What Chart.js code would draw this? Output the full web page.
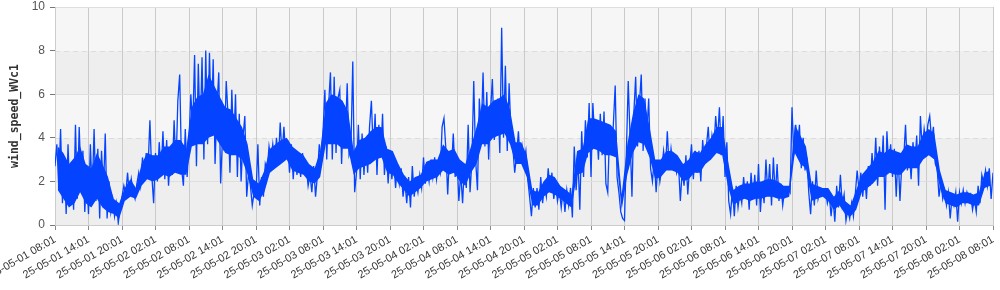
<!DOCTYPE html>
<html>
<head>
<meta charset="utf-8">
<script src="https://cdn.jsdelivr.net/npm/chart.js@4.4.1/dist/chart.umd.min.js"></script>
<style>
  html, body { margin: 0; padding: 0; background: #fff; }
  #wrap { width: 1000px; height: 290px; position: relative; }
</style>
</head>
<body>
<div id="wrap"><canvas id="windChart"></canvas></div>
<script>
// Tick labels, one every 6 hours from the first sample
const xLabels = [
    '25-05-01 08:01', '25-05-01 14:01', '25-05-01 20:01', '25-05-02 02:01',
    '25-05-02 08:01', '25-05-02 14:01', '25-05-02 20:01', '25-05-03 02:01',
    '25-05-03 08:01', '25-05-03 14:01', '25-05-03 20:01', '25-05-04 02:01',
    '25-05-04 08:01', '25-05-04 14:01', '25-05-04 20:01', '25-05-05 02:01',
    '25-05-05 08:01', '25-05-05 14:01', '25-05-05 20:01', '25-05-06 02:01',
    '25-05-06 08:01', '25-05-06 14:01', '25-05-06 20:01', '25-05-07 02:01',
    '25-05-07 08:01', '25-05-07 14:01', '25-05-07 20:01', '25-05-08 02:01',
    '25-05-08 08:01'
];
const yTicks = [0, 2, 4, 6, 8, 10];

// wind speed samples, every 20 minutes, one array per day (starting 08:01)
const day1 = [
    2.7, 3.7, 1.8, 4.4, 1.0, 3.0, 0.5, 3.7, 1.2, 2.8, 0.7, 4.6,
    1.2, 4.5, 2.0, 3.4, 0.6, 2.4, 0.5, 3.7, 1.4, 4.4, 1.1, 3.5,
    0.3, 3.4, 1.5, 4.2, 0.3, 2.0, 0.6, 1.2, 0.4, 1.0, 0.1, 0.8,
    1.3, 1.8, 1.4, 2.4, 1.3, 2.1, 1.5, 1.2, 1.9, 2.4, 1.8, 3.1,
    2.2, 3.3, 2.6, 4.8, 2.3, 1.0, 3.3, 2.0, 3.8, 2.4, 4.3, 2.1,
    3.9, 1.8, 3.2, 2.3, 4.8, 2.6, 5.7, 6.9, 2.6, 1.8, 4.4, 2.2
];
const day2 = [
    3.9, 6.0, 4.4, 7.8, 2.7, 7.4, 4.0, 7.7, 3.0, 8.0, 3.7, 7.9,
    4.4, 7.6, 2.8, 5.4, 7.0, 1.9, 4.0, 3.4, 6.6, 5.0, 2.4, 6.2,
    3.6, 6.0, 2.2, 5.1, 2.0, 4.0, 5.0, 1.3, 2.4, 1.8, 0.9, 1.5,
    1.4, 3.7, 0.9, 2.2, 1.3, 2.8, 2.5, 3.6, 3.0, 3.7, 2.7, 4.0,
    2.9, 4.7, 3.2, 4.5, 3.1, 3.9, 2.4, 3.7, 2.1, 3.4, 2.3, 3.0,
    2.2, 3.3, 2.5, 2.7, 1.8, 2.3, 1.5, 2.7, 1.3, 2.3, 3.7, 3.0
];
const day3 = [
    4.2, 6.2, 3.0, 5.5, 7.0, 3.0, 6.8, 3.3, 5.8, 6.2, 2.8, 5.5,
    4.0, 6.5, 3.2, 3.5, 7.5, 1.5, 2.4, 4.6, 2.1, 4.2, 2.3, 3.9,
    2.4, 4.5, 5.7, 3.3, 5.1, 2.3, 4.6, 3.1, 5.1, 2.3, 3.6, 1.9,
    3.4, 2.1, 3.0, 1.7, 2.8, 1.9, 2.6, 1.3, 2.0, 1.0, 2.2, 0.8,
    2.7, 1.3, 2.0, 1.5, 2.3, 1.7, 3.1, 1.9, 2.6, 2.0, 3.0, 2.2,
    3.1, 2.1, 2.8, 2.4, 4.5, 4.9, 3.5, 1.4, 3.3, 2.5, 4.2, 2.2
];
const day4 = [
    3.1, 1.1, 2.4, 1.0, 2.8, 1.7, 4.6, 1.5, 2.9, 6.6, 3.0, 1.6,
    5.8, 4.2, 7.0, 3.6, 6.1, 3.0, 5.2, 6.7, 3.9, 4.5, 5.8, 3.3,
    9.05, 4.0, 7.3, 3.4, 6.5, 4.2, 3.6, 2.4, 3.2, 4.3, 2.8, 3.6,
    2.9, 3.4, 2.1, 1.3, 0.4, 1.7, 0.8, 1.7, 0.7, 2.2, 1.0, 1.8,
    1.3, 2.6, 1.5, 2.4, 1.2, 1.9, 1.1, 1.6, 0.8, 1.6, 0.6, 1.6,
    0.9, 1.7, 0.35, 3.6, 1.6, 3.0, 0.7, 4.3, 2.2, 4.8, 3.1, 5.6
];
const day5 = [
    2.2, 5.6, 3.9, 4.5, 3.0, 5.1, 3.2, 5.2, 1.9, 1.5, 4.4, 3.2,
    4.6, 6.4, 2.2, 1.5, 0.6, 0.3, 0.2, 3.3, 6.6, 4.0, 1.3, 5.1,
    6.8, 3.6, 5.5, 6.9, 3.4, 5.8, 4.2, 5.8, 2.6, 2.0, 3.0, 1.5,
    2.9, 2.0, 2.6, 3.4, 2.5, 4.3, 2.6, 3.5, 2.7, 3.0, 2.4, 2.8,
    1.1, 2.5, 1.8, 3.2, 1.4, 2.7, 3.7, 2.1, 3.4, 2.4, 3.4, 2.0,
    3.9, 2.8, 3.6, 4.5, 3.0, 4.1, 3.5, 5.0, 3.9, 5.4, 3.2, 5.0
];
const day6 = [
    2.2, 3.8, 1.1, 0.5, 1.7, 0.4, 1.8, 0.8, 1.5, 1.0, 2.2, 1.2,
    2.0, 0.7, 2.4, 1.2, 2.3, 0.9, 2.8, 0.6, 1.9, 1.0, 3.0, 1.4,
    2.8, 0.9, 3.1, 1.3, 2.8, 1.1, 1.9, 0.9, 1.6, 1.4, 1.7, 1.5,
    5.4, 3.2, 4.6, 3.6, 4.6, 2.6, 4.0, 2.5, 3.1, 1.5, 0.5, 2.0,
    0.9, 2.5, 1.2, 1.6, 1.4, 1.5, 1.6, 1.0, 1.4, 0.4, 1.3, 0.15,
    1.8, 0.8, 2.3, 0.9, 1.4, 0.2, 0.7, 0.3, 1.0, 0.4, 1.4, 2.5
];
const day7 = [
    1.6, 2.4, 1.3, 2.3, 1.2, 2.7, 1.8, 3.3, 2.2, 4.0, 1.8, 3.6,
    2.3, 4.1, 0.7, 4.3, 2.6, 3.7, 2.2, 3.5, 1.3, 3.3, 1.1, 2.8,
    3.0, 4.6, 2.5, 3.5, 2.1, 3.8, 2.7, 4.1, 1.8, 5.0, 3.4, 4.4,
    3.7, 4.6, 5.0, 3.9, 4.5, 2.8, 2.6, 1.3, 2.0, 1.2, 1.6, 0.9,
    1.5, 0.3, 1.3, 0.9, 1.5, 0.15, 1.5, 1.0, 1.6, 1.0, 1.5, 1.2,
    1.4, 0.7, 1.2, 0.6, 1.8, 1.0, 2.3, 1.9, 2.5, 1.8, 2.6, 1.2,
    2.4
];

// dense core of the trace, hourly (where the 1-min samples pile up)
const coreLo = [
    1.6, 1.2, 0.8, 1.0, 1.5, 1.0, 0.8, 1.2, 0.8, 0.6, 0.5, 0.3,
    1.1, 1.3, 1.2, 1.8, 2.1, 2.0, 2.1, 2.3, 2.2, 2.4, 2.3, 2.3,
    3.6, 3.7, 3.7, 4.0, 4.1, 3.7, 3.3, 3.2, 3.2, 3.0, 2.3, 1.3,
    1.1, 1.5, 2.4, 2.6, 2.8, 3.0, 2.5, 2.4, 2.3, 2.0, 1.9, 2.2,
    3.7, 3.7, 3.7, 3.5, 3.5, 2.3, 2.6, 2.7, 2.8, 3.0, 3.1, 2.4,
    2.3, 1.9, 1.6, 1.3, 1.5, 1.7, 2.0, 2.1, 2.2, 2.5, 2.3, 2.4,
    2.0, 1.8, 2.4, 2.8, 3.7, 3.7, 4.0, 4.1, 4.2, 3.7, 2.8, 2.8,
    2.2, 0.9, 0.9, 1.3, 1.5, 1.4, 1.2, 1.0, 0.8, 2.3, 2.4, 3.3,
    3.5, 3.4, 3.2, 3.2, 3.1, 0.7, 2.3, 3.3, 3.8, 3.7, 3.1, 2.1,
    2.2, 2.5, 2.5, 2.4, 2.0, 2.1, 2.4, 2.4, 2.8, 3.0, 3.3, 3.2,
    1.8, 0.9, 1.1, 1.2, 1.1, 1.2, 1.2, 1.3, 1.3, 1.2, 1.2, 1.3,
    3.3, 2.8, 2.6, 1.1, 1.2, 1.3, 1.1, 0.7, 0.9, 0.5, 0.4, 0.7,
    1.5, 1.7, 1.9, 2.2, 2.2, 2.4, 2.3, 2.3, 2.6, 2.6, 2.6, 3.0,
    3.2, 3.0, 1.7, 1.0, 0.9, 0.8, 1.0, 1.0, 0.9, 0.9, 1.7, 1.8
];
const coreHi = [
    3.6, 3.3, 2.8, 3.1, 3.6, 2.8, 2.6, 3.3, 2.8, 2.2, 1.2, 1.0,
    1.7, 2.1, 1.7, 2.8, 3.3, 3.2, 3.2, 3.6, 3.6, 3.9, 3.9, 3.5,
    5.4, 5.9, 6.0, 6.9, 6.4, 5.9, 5.4, 5.3, 4.9, 4.5, 3.7, 2.1,
    1.9, 2.5, 3.5, 3.7, 3.9, 4.0, 3.6, 3.4, 3.2, 2.8, 2.6, 3.4,
    5.6, 6.0, 5.9, 5.7, 5.2, 3.4, 3.9, 4.0, 4.3, 4.5, 4.5, 3.5,
    3.4, 2.8, 2.3, 2.0, 2.2, 2.3, 2.9, 3.0, 3.0, 3.7, 3.4, 3.5,
    3.0, 2.8, 3.6, 4.5, 5.6, 5.4, 5.7, 5.8, 6.0, 5.3, 3.8, 3.8,
    3.2, 1.6, 1.5, 2.0, 2.3, 2.2, 1.8, 1.6, 1.4, 3.4, 3.5, 4.9,
    4.9, 4.8, 4.7, 4.6, 4.3, 1.4, 3.7, 5.1, 6.0, 5.8, 4.5, 3.0,
    3.0, 3.4, 3.4, 3.2, 2.8, 3.0, 3.4, 3.3, 3.7, 4.0, 4.5, 4.5,
    3.0, 1.6, 1.8, 1.9, 1.9, 2.0, 2.0, 2.1, 2.1, 2.0, 1.8, 1.8,
    4.6, 4.1, 3.6, 1.9, 1.8, 1.7, 1.7, 1.3, 1.6, 1.1, 0.9, 1.6,
    2.3, 2.6, 2.9, 3.4, 3.3, 3.5, 3.4, 3.3, 3.7, 3.6, 3.6, 4.2,
    4.4, 4.2, 2.5, 1.6, 1.5, 1.4, 1.5, 1.5, 1.4, 1.5, 2.4, 2.5
];

const days = [day1, day2, day3, day4, day5, day6, day7];

// x is hours since 25-05-01 08:01
const points = [];
days.forEach((vals, d) => {
    vals.forEach((v, i) => {
        points.push({ x: d * 24 + i / 3, y: v });
    });
});
const lowPts = coreLo.map((v, h) => ({ x: h + 0.5, y: v }));
const highPts = coreHi.map((v, h) => ({ x: h + 0.5, y: v }));

// shaded bands behind the plot (dygraph style)
const bandPlugin = {
    id: 'bands',
    beforeDraw(chart) {
        const { ctx, chartArea: a, scales: { y } } = chart;
        const bands = [[0, 4, '#eeeeee'], [4, 6, '#f6f6f6'], [6, 8, '#eeeeee'], [8, 10, '#f6f6f6']];
        ctx.save();
        bands.forEach(([lo, hi, col]) => {
            const top = y.getPixelForValue(hi);
            const bot = y.getPixelForValue(lo);
            ctx.fillStyle = col;
            ctx.fillRect(a.left, top, a.right - a.left, bot - top);
        });
        ctx.strokeStyle = '#dcdcdc';
        ctx.lineWidth = 1;
        ctx.setLineDash([5, 4]);
        [4, 8].forEach(v => {
            const py = Math.round(y.getPixelForValue(v)) + 0.5;
            ctx.beginPath();
            ctx.moveTo(a.left, py);
            ctx.lineTo(a.right, py);
            ctx.stroke();
        });
        ctx.restore();
    }
};

const blue = '#0443ff';
const ctx = document.getElementById('windChart').getContext('2d');
const windChart = new Chart(ctx, {
    type: 'line',
    data: {
        datasets: [{
            label: 'core low',
            data: lowPts,
            borderWidth: 0,
            borderColor: blue,
            pointRadius: 0,
            fill: false
        }, {
            label: 'core high',
            data: highPts,
            borderWidth: 0,
            borderColor: blue,
            backgroundColor: blue,
            pointRadius: 0,
            fill: '-1'
        }, {
            label: 'wind_speed_WVc1',
            data: points,
            borderColor: blue,
            borderWidth: 1.3,
            pointRadius: 0,
            fill: false,
            tension: 0
        }]
    },
    options: {
        responsive: true,
        maintainAspectRatio: false,
        animation: false,
        layout: { padding: { top: 7, right: 7, left: 0, bottom: 0 } },
        plugins: {
            legend: { display: false },
            tooltip: { enabled: false }
        },
        scales: {
            x: {
                type: 'linear',
                min: 0,
                max: 168,
                grid: { color: '#cacaca', tickColor: '#888', tickLength: 5 },
                border: { color: '#cccccc' },
                ticks: {
                    stepSize: 6,
                    autoSkip: false,
                    maxRotation: 30,
                    minRotation: 30,
                    padding: 3,
                    color: '#333',
                    font: { family: 'Arial, "Liberation Sans", sans-serif', size: 11 },
                    callback: (value) => xLabels[Math.round(value / 6)]
                },
                afterFit: (scale) => {
                    scale.height = 65;
                    scale.paddingLeft = 0;
                    scale.paddingRight = 0;
                }
            },
            y: {
                min: 0,
                max: 10,
                afterBuildTicks: (scale) => {
                    scale.ticks = yTicks.map(v => ({ value: v }));
                },
                grid: {
                    color: (c) => (c.tick && (c.tick.value === 4 || c.tick.value === 8)) ? 'rgba(0,0,0,0)' : '#dedede',
                    tickColor: '#777',
                    tickLength: 5
                },
                border: { color: '#cccccc' },
                ticks: {
                    padding: 5,
                    color: '#555',
                    font: { family: 'Arial, "Liberation Sans", sans-serif', size: 12 }
                },
                title: {
                    display: true,
                    text: 'wind_speed_WVc1',
                    color: '#333',
                    padding: { top: 8, bottom: 0 },
                    font: { family: '"DejaVu Sans Mono", monospace', size: 11.5, weight: 'bold' }
                },
                afterFit: (scale) => {
                    scale.width = 55;
                    scale.paddingTop = 0;
                    scale.paddingBottom = 0;
                }
            }
        }
    },
    plugins: [bandPlugin]
});
</script>
</body>
</html>
